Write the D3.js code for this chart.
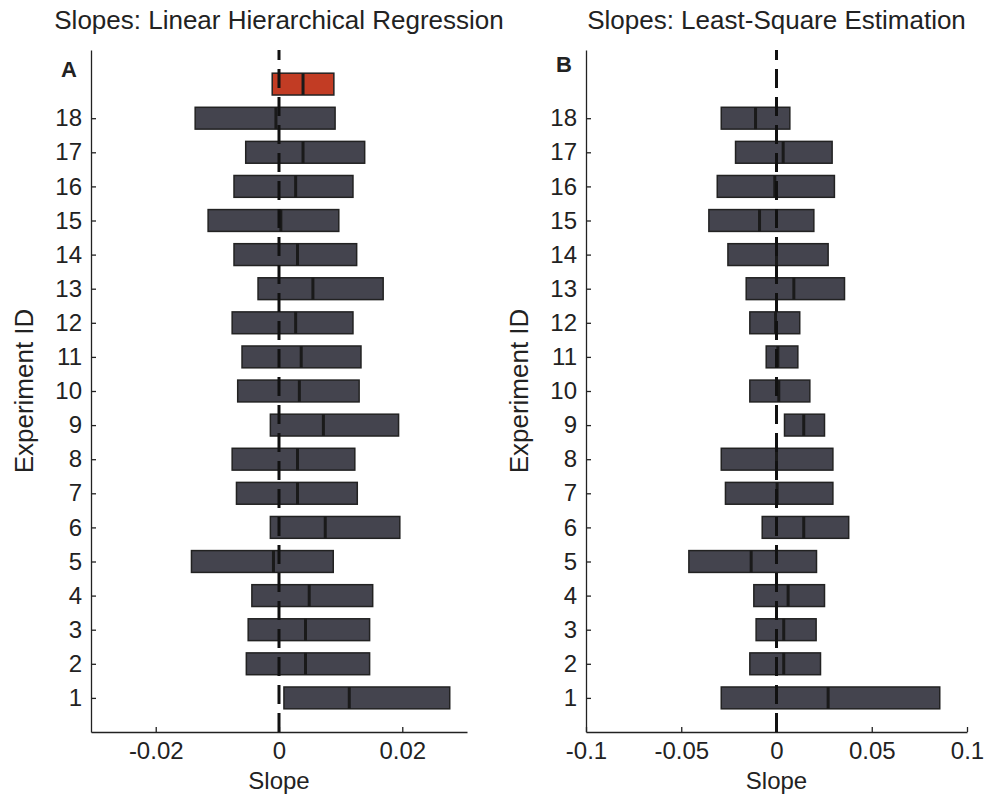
<!DOCTYPE html>
<html>
<head>
<meta charset="utf-8">
<script src="https://cdn.jsdelivr.net/npm/d3@7"></script>
<style>
  body { margin: 0; background: #fff; }
  text { font-family: "Liberation Sans", Arial, sans-serif; fill: #222; }
</style>
</head>
<body>
<svg id="chart"></svg>
<script>
// experiment ids shown on the y axis
const experimentIds = [1, 2, 3, 4, 5, 6, 7, 8, 9, 10, 11, 12, 13, 14, 15, 16, 17, 18];

// panel A: linear hierarchical regression (interval low / median / high)
const hierLow  = [0.0008, -0.0053, -0.0050, -0.0044, -0.0142, -0.0014, -0.0069, -0.0076, -0.0014, -0.0067, -0.0060, -0.0076, -0.0034, -0.0073, -0.0115, -0.0073, -0.0054, -0.0136];
const hierMed  = [0.0114, 0.0043, 0.0043, 0.0049, -0.0009, 0.0075, 0.0030, 0.0030, 0.0072, 0.0033, 0.0036, 0.0027, 0.0055, 0.0030, 0.0003, 0.0027, 0.0039, -0.0005];
const hierHigh = [0.0277, 0.0147, 0.0147, 0.0152, 0.0088, 0.0196, 0.0127, 0.0123, 0.0194, 0.0130, 0.0133, 0.0120, 0.0169, 0.0126, 0.0097, 0.0120, 0.0139, 0.0091];
// group-level estimate (red bar on top of panel A)
const groupRow = 19;
const groupEstimate = [-0.0011, 0.0039, 0.0089];

// panel B: least-square estimation
const lsqLow  = [-0.0290, -0.0140, -0.0107, -0.0119, -0.0460, -0.0075, -0.0268, -0.0290, 0.0042, -0.0140, -0.0054, -0.0140, -0.0159, -0.0255, -0.0355, -0.0311, -0.0215, -0.0290];
const lsqMed  = [0.0271, 0.0038, 0.0038, 0.0061, -0.0133, 0.0143, 0.0003, 0.0000, 0.0143, 0.0012, 0.0007, -0.0005, 0.0091, 0.0000, -0.0089, -0.0009, 0.0035, -0.0110];
const lsqHigh = [0.0857, 0.0231, 0.0208, 0.0252, 0.0210, 0.0379, 0.0296, 0.0296, 0.0252, 0.0175, 0.0112, 0.0122, 0.0357, 0.0271, 0.0196, 0.0304, 0.0292, 0.0070];

const ticksA = [-0.02, 0, 0.02];
const ticksB = [-0.1, -0.05, 0, 0.05, 0.1];

const W = 984, H = 803;
const svg = d3.select('#chart').attr('width', W).attr('height', H);

const plotTop = 50, plotBottom = 732;
const yScale = d3.scaleLinear().domain([0, 20]).range([plotBottom, plotTop]);
const bandH = (yScale(0) - yScale(1)) * 0.64;

function drawPanel(opts) {
    const x = d3.scaleLinear().domain(opts.domain).range(opts.range);
    const g = svg.append('g');

    // y axis
    g.append('g')
     .attr('transform', `translate(${opts.range[0]},0)`)
     .call(d3.axisLeft(yScale).tickValues(experimentIds).tickFormat(d3.format('d'))
         .tickSizeInner(-5).tickSizeOuter(0).tickPadding(9))
     .call(s => s.selectAll('path,line').attr('stroke', '#222').attr('stroke-width', 1.3))
     .call(s => s.selectAll('text').style('font-size', '24px').attr('fill', '#222')
         .style('font-family', '"Liberation Sans", Arial, sans-serif'));

    // x axis
    g.append('g')
     .attr('transform', `translate(0,${plotBottom})`)
     .call(d3.axisBottom(x).tickValues(opts.ticks).tickFormat(d => String(d))
         .tickSizeInner(-5).tickSizeOuter(0).tickPadding(10))
     .call(s => s.selectAll('path,line').attr('stroke', '#222').attr('stroke-width', 1.3))
     .call(s => s.selectAll('text').style('font-size', '24px').attr('fill', '#222')
         .style('font-family', '"Liberation Sans", Arial, sans-serif'));

    const rows = experimentIds.map((id, i) => ({ id, lo: opts.low[i], med: opts.med[i], hi: opts.high[i], fill: '#44444e' }));
    if (opts.group) rows.push({ id: groupRow, lo: opts.group[0], med: opts.group[1], hi: opts.group[2], fill: '#c23c24' });

    // interval bars
    g.selectAll('rect.bar')
     .data(rows)
     .enter()
     .append('rect')
     .attr('class', 'bar')
     .attr('x', d => x(d.lo))
     .attr('y', d => yScale(d.id) - bandH / 2)
     .attr('width', d => x(d.hi) - x(d.lo))
     .attr('height', bandH)
     .attr('fill', d => d.fill)
     .attr('stroke', '#222')
     .attr('stroke-width', 1.5);

    // median marks
    g.selectAll('line.med')
     .data(rows)
     .enter()
     .append('line')
     .attr('class', 'med')
     .attr('x1', d => x(d.med))
     .attr('x2', d => x(d.med))
     .attr('y1', d => yScale(d.id) - bandH / 2)
     .attr('y2', d => yScale(d.id) + bandH / 2)
     .attr('stroke', '#1a1a1a')
     .attr('stroke-width', 3);

    // dashed zero line
    g.append('line')
     .attr('x1', x(0)).attr('x2', x(0))
     .attr('y1', yScale(0)).attr('y2', yScale(20))
     .attr('stroke', '#111')
     .attr('stroke-width', 3)
     .attr('stroke-dasharray', '19,9');

    const cx = (opts.range[0] + opts.range[1]) / 2;

    // title
    svg.append('text')
       .attr('x', cx).attr('y', 29)
       .attr('text-anchor', 'middle')
       .style('font-size', '26px')
       .text(opts.title);

    // panel letter
    svg.append('text')
       .attr('x', opts.range[0] - 22).attr('y', opts.letterY)
       .attr('text-anchor', 'middle')
       .style('font-size', '22px')
       .style('font-weight', 'bold')
       .text(opts.letter);

    // axis labels
    svg.append('text')
       .attr('x', cx).attr('y', 789)
       .attr('text-anchor', 'middle')
       .style('font-size', '24px')
       .text('Slope');

    svg.append('text')
       .attr('transform', `translate(${opts.range[0] - 67},${(plotTop + plotBottom) / 2}) rotate(-90)`)
       .attr('text-anchor', 'middle')
       .attr('dy', '0.35em')
       .style('font-size', '26px')
       .text('Experiment ID');
}

drawPanel({
    domain: [-0.0305, 0.0305], range: [91, 467], ticks: ticksA,
    low: hierLow, med: hierMed, high: hierHigh, group: groupEstimate,
    title: 'Slopes: Linear Hierarchical Regression', letter: 'A', letterY: 77
});

drawPanel({
    domain: [-0.1, 0.1], range: [586, 967], ticks: ticksB,
    low: lsqLow, med: lsqMed, high: lsqHigh, group: null,
    title: 'Slopes: Least-Square Estimation', letter: 'B', letterY: 72
});
</script>
</body>
</html>
